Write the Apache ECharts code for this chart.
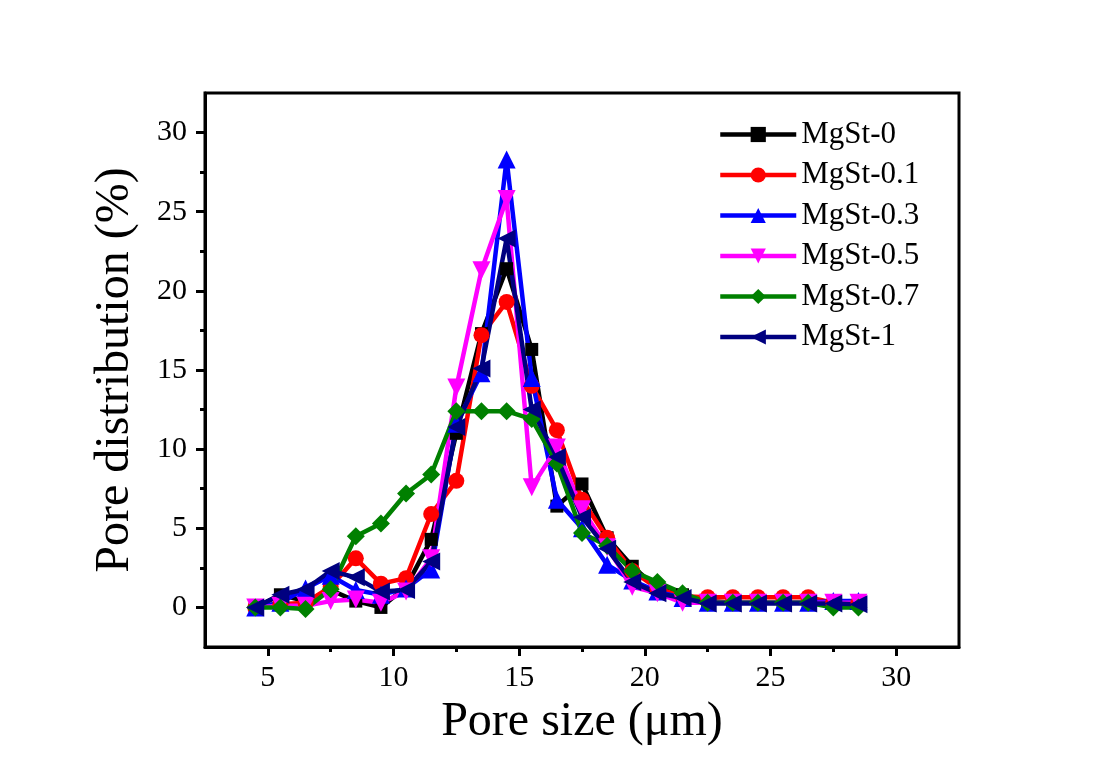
<!DOCTYPE html>
<html>
<head>
<meta charset="utf-8">
<script src="https://cdn.jsdelivr.net/npm/echarts@6/dist/echarts.min.js"></script>
<style>
html,body{margin:0;padding:0;background:#fff;}
#chart{width:1100px;height:769px;}
</style>
</head>
<body>
<div id="chart"></div>
<script>
// Pore size (µm) at each measured point
const poreSize = [4.5,5.5,6.5,7.5,8.5,9.5,10.5,11.5,12.5,13.5,14.5,15.5,16.5,17.5,18.5,19.5,20.5,21.5,22.5,23.5,24.5,25.5,26.5,27.5,28.5];

const mgst0   = [0,0.8,0.4,1.1,0.4,0,1.3,4.3,11.0,17.3,21.4,16.3,6.4,7.8,4.4,2.6,1.2,0.8,0.4,0.3,0.3,0.3,0.3,0.3,0.3];
const mgst01  = [0,0.2,0.3,1.3,3.1,1.5,1.85,5.9,8.0,17.2,19.3,14.0,11.2,6.8,4.4,2.3,1.2,0.7,0.65,0.65,0.65,0.65,0.65,0.3,0.3];
const mgst03  = [0,0.3,1.2,2.0,1.1,0.8,1.2,2.4,11.6,14.8,28.3,14.5,6.8,5.0,2.7,1.7,1.0,0.6,0.3,0.3,0.3,0.3,0.3,0.4,0.4];
const mgst05  = [0,0.1,0.1,0.4,0.5,0.3,1.0,3.1,13.9,21.3,25.8,7.6,10.1,6.2,3.8,1.3,0.9,0.3,0.3,0.3,0.3,0.3,0.3,0.3,0.3];
const mgst07  = [0,0,-0.1,1.15,4.5,5.3,7.2,8.4,12.4,12.4,12.4,11.9,9.1,4.7,3.9,2.3,1.6,0.9,0.3,0.3,0.3,0.3,0.3,0,0];
const mgst1   = [0,0.8,1.15,2.3,1.9,1.0,1.1,2.9,11.4,15.1,23.3,12.5,9.5,5.7,3.7,1.6,0.9,0.6,0.25,0.25,0.25,0.25,0.25,0.25,0.2];

const seriesNames = ['MgSt-0','MgSt-0.1','MgSt-0.3','MgSt-0.5','MgSt-0.7','MgSt-1'];
const seriesValues = [mgst0, mgst01, mgst03, mgst05, mgst07, mgst1];

const xMajorTicks = [5,10,15,20,25,30];
const xMinorTicks = [7.5,12.5,17.5,22.5,27.5];
const yMajorTicks = [0,5,10,15,20,25,30];
const yMinorTicks = [2.5,7.5,12.5,17.5,22.5,27.5];

const colors = ['#000000','#ff0000','#0000ff','#ff00ff','#008000','#000080'];
const symbols = ['rect','circle','triangle','triangle','diamond','triangle'];
const symbolSizes = [13,16,18,18,18,18];
const symbolRotates = [0,0,0,180,0,90];

const FONT = "'Liberation Serif','Times New Roman',serif";

const chart = echarts.init(document.getElementById('chart'), null, {renderer:'canvas'});

const series = seriesNames.map((name, i) => ({
  name: name,
  type: 'line',
  xAxisIndex: 0,
  yAxisIndex: 0,
  data: poreSize.map((x, j) => [x, seriesValues[i][j]]),
  symbol: symbols[i],
  symbolSize: symbolSizes[i],
  symbolRotate: symbolRotates[i],
  showAllSymbol: true,
  lineStyle: {color: colors[i], width: 4.5},
  itemStyle: {color: colors[i]},
  emphasis: {disabled: true},
  animation: false
}));

const axisFont = {fontFamily: FONT, fontSize: 30, color: '#000'};

chart.setOption({
  backgroundColor: '#ffffff',
  animation: false,
  grid: {
    left: 205, right: 141, top: 93, bottom: 122,
    show: true, borderColor: '#000', borderWidth: 3, backgroundColor: 'transparent'
  },
  legend: {
    left: 713, top: 114,
    orient: 'vertical',
    itemWidth: 76, itemHeight: 19, itemGap: 9.5,
    lineStyle: {width: 4.5},
    textStyle: {fontFamily: FONT, fontSize: 31, color: '#000', lineHeight: 31},
    data: seriesNames,
    selectedMode: false
  },
  xAxis: [{
    type: 'value', min: 2.5, max: 32.5,
    position: 'bottom',
    name: 'Pore size (μm)', nameLocation: 'middle', nameGap: 44,
    nameTextStyle: {fontFamily: FONT, fontSize: 48, color: '#000'},
    axisLine: {show: true, onZero: false, lineStyle: {color: '#000', width: 3}},
    axisTick: {show: true, inside: false, length: 9, lineStyle: {color: '#000', width: 3}, customValues: xMajorTicks},
    axisLabel: Object.assign({margin: 16, customValues: xMajorTicks}, axisFont),
    splitLine: {show: false}
  }, {
    type: 'value', min: 2.5, max: 32.5,
    position: 'bottom',
    axisLine: {show: false, onZero: false},
    axisTick: {show: true, inside: false, length: 5, lineStyle: {color: '#000', width: 3}, customValues: xMinorTicks},
    axisLabel: {show: false},
    splitLine: {show: false}
  }],
  yAxis: [{
    type: 'value', min: -2.5, max: 32.5,
    position: 'left',
    name: 'Pore distribution (%)', nameLocation: 'middle', nameGap: 66,
    nameTextStyle: {fontFamily: FONT, fontSize: 48, color: '#000'},
    axisLine: {show: true, onZero: false, lineStyle: {color: '#000', width: 3}},
    axisTick: {show: true, inside: false, length: 9, lineStyle: {color: '#000', width: 3}, customValues: yMajorTicks},
    axisLabel: Object.assign({margin: 18, customValues: yMajorTicks}, axisFont),
    splitLine: {show: false}
  }, {
    type: 'value', min: -2.5, max: 32.5,
    position: 'left',
    axisLine: {show: false, onZero: false},
    axisTick: {show: true, inside: false, length: 5, lineStyle: {color: '#000', width: 3}, customValues: yMinorTicks},
    axisLabel: {show: false},
    splitLine: {show: false}
  }],
  series: series
});
</script>
</body>
</html>
